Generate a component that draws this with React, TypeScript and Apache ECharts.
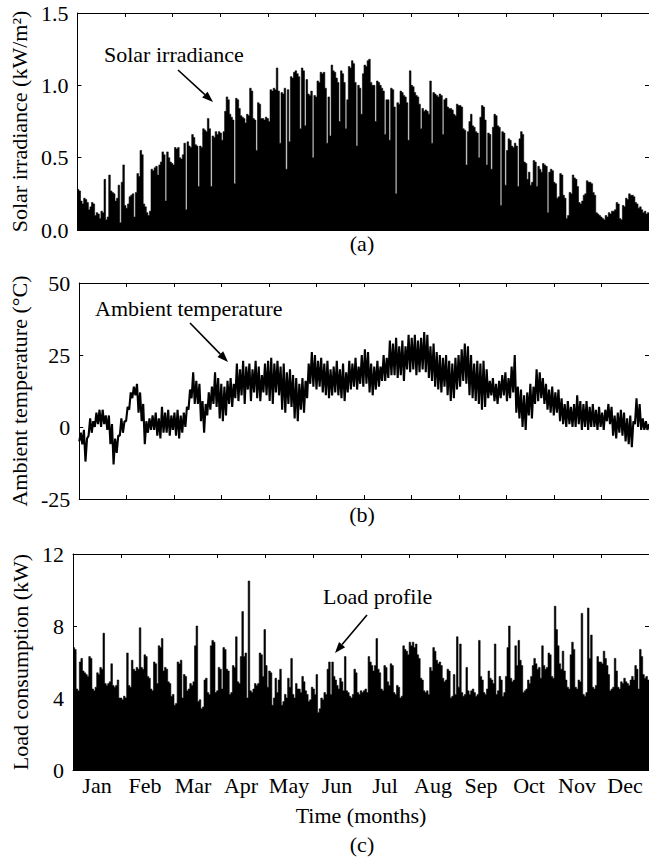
import { useEffect, useRef } from "react";
import * as echarts from "echarts";

const months = ["Jan", "Feb", "Mar", "Apr", "May", "Jun", "Jul", "Aug", "Sep", "Oct", "Nov", "Dec"];

// Daily peak solar irradiance (kW/m²), day 0..364
const solarPeak = [
  0.28, 0.27, 0.2, 0.18, 0.22, 0.21, 0.19, 0.14, 0.16, 0.19,
  0.18, 0.1, 0.12, 0.11, 0.08, 0.13, 0.12, 0.35, 0.07, 0.09,
  0.38, 0.27, 0.26, 0.25, 0.2, 0.22, 0.31, 0.05, 0.33, 0.45,
  0.17, 0.15, 0.18, 0.23, 0.24, 0.25, 0.09, 0.26, 0.39, 0.37,
  0.55, 0.52, 0.18, 0.16, 0.12, 0.1, 0.13, 0.42, 0.41, 0.43,
  0.44, 0.38, 0.45, 0.47, 0.54, 0.52, 0.2, 0.54, 0.5, 0.47,
  0.46, 0.45, 0.57, 0.56, 0.57, 0.5, 0.49, 0.52, 0.6, 0.14,
  0.61, 0.58, 0.57, 0.66, 0.64, 0.59, 0.58, 0.3, 0.58, 0.57,
  0.7, 0.69, 0.68, 0.77, 0.7, 0.3, 0.65, 0.64, 0.68, 0.66,
  0.68, 0.67, 0.62, 0.68, 0.82, 0.92, 0.9, 0.8, 0.78, 0.76,
  0.32, 0.91, 0.9, 0.84, 0.79, 0.78, 0.77, 0.74, 0.8, 0.79,
  0.98, 0.96, 0.77, 0.76, 0.55, 0.88, 0.87, 0.77, 0.77, 0.76,
  0.78, 0.77, 0.75, 0.97, 0.96, 0.98, 0.97, 1.12, 0.96, 0.6,
  0.95, 0.94, 0.98, 0.42, 0.97, 0.61, 1.06, 1.05, 1.09, 1.1,
  1.08, 1.06, 0.7, 1.12, 1.1, 0.72, 1.04, 0.94, 0.93, 0.96,
  0.5, 0.93, 0.92, 1.03, 1.02, 1.09, 1.08, 1.09, 0.98, 0.6,
  0.92, 0.65, 1.14, 1.1, 1.09, 1.05, 1.02, 0.75, 1.1, 1.08,
  1.02, 0.7, 0.9, 1.13, 1.12, 1.17, 1.15, 1.02, 0.58, 1.0,
  0.98, 0.8, 1.08, 1.14, 1.13, 1.17, 1.18, 1.02, 1.0, 1.0,
  0.75, 1.03, 1.02, 1.0, 0.98, 0.96, 0.66, 0.9, 0.9, 0.62,
  0.98, 0.97, 0.85, 0.25, 0.88, 0.87, 0.96, 0.95, 0.93, 0.92,
  0.88, 0.62, 1.1, 1.0, 0.99, 0.95, 0.93, 0.92, 0.87, 0.7,
  0.84, 0.82, 0.83, 0.82, 0.8, 1.03, 0.6, 0.95, 0.94, 0.93,
  0.92, 0.94, 0.93, 0.66, 0.9, 0.91, 0.85, 0.84, 0.84, 0.83,
  0.8, 0.79, 0.87, 0.86, 0.86, 0.85, 0.7, 0.69, 0.45, 0.68,
  0.75, 0.8, 0.72, 0.71, 0.68, 0.67, 0.5, 0.78, 0.86, 0.85,
  0.76, 0.45, 0.67, 0.66, 0.42, 0.71, 0.8, 0.79, 0.72, 0.71,
  0.17, 0.68, 0.67, 0.31, 0.55, 0.63, 0.62, 0.58, 0.57, 0.6,
  0.58, 0.3, 0.63, 0.68, 0.66, 0.47, 0.46, 0.35, 0.4, 0.31,
  0.33, 0.48, 0.47, 0.3, 0.44, 0.42, 0.4, 0.46, 0.45, 0.44,
  0.12, 0.4, 0.42, 0.41, 0.33, 0.32, 0.22, 0.23, 0.39, 0.38,
  0.24, 0.22, 0.08, 0.1, 0.26, 0.25, 0.38, 0.36, 0.35, 0.3,
  0.19, 0.18, 0.2, 0.24, 0.25, 0.34, 0.33, 0.33, 0.32, 0.26,
  0.24, 0.12, 0.11, 0.1, 0.09, 0.08, 0.07, 0.1, 0.09, 0.12,
  0.11, 0.13, 0.13, 0.14, 0.19, 0.18, 0.08, 0.07, 0.17, 0.16,
  0.22, 0.21, 0.25, 0.24, 0.24, 0.23, 0.19, 0.18, 0.15, 0.16,
  0.14, 0.12, 0.13, 0.11, 0.12,
];

// Ambient temperature (°C): maximum / minimum over each 2-day step, day 0,2,...,364
const tempMax = [
  -2, -1, -4, 3, 2, 5, 6, 6, 4, 4,
  1, -4, -3, 3, 2, 7, 12, 14, 15, 12,
  8, 2, 3, 4, 5, 3, 7, 5, 6, 4,
  5, 6, 4, 5, 7, 13, 19, 16, 15, 9,
  8, 12, 14, 19, 17, 15, 14, 16, 17, 15,
  22, 20, 23, 21, 22, 20, 23, 21, 18, 22,
  23, 24, 22, 23, 21, 22, 19, 20, 18, 17,
  15, 17, 16, 22, 26, 25, 23, 24, 22, 23,
  20, 21, 23, 20, 22, 19, 23, 22, 24, 21,
  25, 27, 26, 22, 21, 23, 21, 25, 24, 30,
  29, 31, 28, 30, 28, 32, 31, 32, 30, 31,
  33, 32, 28, 29, 26, 25, 24, 25, 23, 22,
  24, 25, 27, 29, 28, 25, 22, 23, 22, 23,
  20, 16, 17, 15, 16, 18, 19, 17, 21, 25,
  14, 13, 11, 12, 15, 14, 20, 19, 17, 15,
  13, 14, 12, 13, 10, 8, 9, 7, 8, 11,
  9, 8, 9, 7, 8, 6, 7, 5, 6, 8,
  7, 4, 5, 6, 5, 3, 4, 2, 10, 8,
  3, 2, 1,
];
const tempMin = [
  -5, -6, -12, -3, -2, 0, 1, 0, 1, -1,
  -6, -13, -9, -3, -2, 2, 6, 10, 11, 5,
  2, -6, -2, -1, -1, -3, -4, -2, -2, -3,
  -1, -3, -4, -2, 0, 6, 10, 8, 8, 2,
  -2, 4, 6, 8, 7, 3, 2, 4, 8, 7,
  10, 9, 11, 8, 13, 9, 12, 10, 9, 12,
  11, 9, 8, 12, 11, 6, 5, 8, 7, 3,
  2, 6, 5, 10, 15, 14, 13, 14, 12, 11,
  10, 11, 12, 11, 10, 9, 12, 13, 14, 13,
  15, 14, 15, 12, 11, 13, 14, 16, 16, 17,
  18, 18, 17, 18, 16, 20, 19, 20, 18, 19,
  20, 19, 17, 16, 14, 13, 12, 14, 11, 9,
  10, 13, 14, 16, 15, 11, 10, 9, 8, 6,
  7, 10, 11, 9, 8, 10, 11, 9, 10, 12,
  5, 3, 0, -1, 4, 3, 8, 9, 10, 8,
  6, 5, 4, 5, 2, 1, 0, 1, 0, 0,
  1, -1, 0, -1, 0, 0, -1, 0, -1, 2,
  1, -3, -4, -2, -3, -5, -6, -7, 1, 0,
  -1, -1, -1,
];

// Daily peak load consumption (kW), day 0..364
const loadPeak = [
  6.8, 6.7, 4.5, 4.4, 6.0, 6.2, 5.5, 5.4, 5.3, 5.2,
  6.3, 6.2, 4.5, 4.4, 4.6, 5.4, 5.3, 5.7, 5.6, 7.6,
  4.8, 4.7, 4.8, 4.9, 5.9, 4.7, 4.6, 4.7, 5.0, 4.0,
  4.0, 3.9, 4.1, 4.0, 6.5, 4.7, 4.6, 6.1, 5.6, 5.5,
  5.7, 5.6, 7.9, 5.7, 5.6, 6.4, 6.3, 5.2, 5.1, 4.5,
  4.4, 6.0, 5.9, 4.8, 6.9, 6.8, 7.3, 5.5, 5.7, 5.6,
  4.9, 4.8, 4.1, 4.2, 3.6, 3.7, 6.0, 5.9, 6.1, 4.0,
  5.3, 5.2, 4.4, 4.5, 4.8, 4.7, 4.9, 6.9, 8.0, 3.8,
  3.9, 3.4, 3.5, 5.0, 5.1, 4.3, 4.2, 6.9, 7.2, 7.1,
  4.3, 4.4, 5.7, 5.6, 4.5, 6.8, 6.7, 5.6, 5.5, 4.2,
  4.3, 5.8, 5.7, 7.4, 4.9, 4.8, 6.3, 8.8, 6.3, 6.5,
  4.0, 10.5, 4.4, 4.3, 4.5, 4.8, 4.7, 4.8, 6.5, 6.4,
  5.2, 7.8, 5.8, 4.6, 5.5, 5.4, 3.6, 4.0, 5.1, 4.3,
  5.0, 5.6, 3.6, 3.8, 4.2, 4.0, 5.1, 4.6, 6.2, 4.2,
  4.0, 4.8, 4.5, 4.5, 4.3, 5.2, 4.9, 4.4, 4.2, 3.8,
  3.9, 4.6, 4.5, 4.2, 5.3, 3.2, 3.4, 4.0, 3.9, 4.3,
  4.2, 5.6, 6.0, 4.2, 6.0, 5.2, 5.0, 4.7, 4.5, 5.1,
  4.9, 4.4, 6.3, 4.4, 4.3, 4.1, 4.0, 4.2, 5.6, 5.4,
  4.3, 4.2, 4.4, 4.3, 4.4, 4.5, 4.3, 6.3, 6.0, 5.8,
  5.5, 5.8, 7.3, 5.6, 5.4, 4.5, 4.4, 5.8, 5.7, 4.9,
  4.7, 5.9, 5.8, 4.3, 4.2, 4.7, 4.6, 4.0, 4.1, 6.9,
  6.7, 6.6, 6.4, 7.1, 6.9, 7.1, 6.8, 7.0, 6.4, 6.2,
  5.1, 5.0, 4.4, 4.3, 4.4, 4.2, 5.7, 5.5, 6.8, 6.6,
  6.1, 5.9, 6.0, 5.8, 5.1, 4.9, 5.0, 5.6, 5.5, 4.0,
  4.1, 5.3, 4.2, 7.4, 4.6, 7.0, 4.3, 4.1, 4.2, 5.7,
  4.4, 4.2, 4.4, 4.5, 4.3, 4.1, 4.2, 7.2, 5.2, 5.0,
  4.3, 4.2, 4.5, 5.5, 5.1, 5.0, 4.8, 7.0, 4.2, 4.4,
  5.2, 5.0, 4.1, 4.3, 5.2, 6.8, 8.0, 5.1, 4.9, 5.0,
  6.9, 5.8, 7.2, 6.1, 5.8, 4.3, 4.4, 4.5, 5.0, 4.8,
  5.2, 5.8, 6.2, 5.9, 5.6, 5.7, 5.1, 6.9, 5.8, 5.6,
  5.7, 6.5, 6.4, 5.2, 5.1, 9.1, 7.8, 6.9, 5.9, 5.6,
  6.6, 5.5, 5.0, 4.6, 4.5, 6.4, 7.1, 6.7, 4.6, 4.5,
  5.0, 4.9, 8.7, 4.2, 4.1, 4.3, 9.0, 6.2, 7.5, 4.6,
  4.5, 4.7, 6.3, 6.0, 6.0, 5.9, 6.6, 6.2, 5.8, 5.3,
  4.4, 4.5, 4.6, 6.2, 5.5, 4.6, 4.5, 4.9, 4.8, 5.1,
  4.9, 4.8, 4.7, 5.0, 5.2, 5.0, 5.8, 5.6, 4.5, 6.7,
  6.3, 5.3, 5.1, 5.2, 5.0,
];

const FONT = "'Liberation Serif', 'Times New Roman', Times, serif";
const FS = 22;

function stepData(vals: number[]): [number, number][] {
  const out: [number, number][] = [[0, vals[0]]];
  vals.forEach((v, d) => out.push([d + 0.5, v]));
  out.push([vals.length, vals[vals.length - 1]]);
  return out;
}

function bandData(mins: number[], maxs: number[]): [number, number][] {
  const out: [number, number][] = [];
  mins.forEach((m, i) => {
    out.push([2 * i, m]);
    out.push([2 * i + 1, maxs[i]]);
  });
  return out;
}

function arrow(x1: number, y1: number, x2: number, y2: number): any[] {
  const dx = x2 - x1;
  const dy = y2 - y1;
  const len = Math.sqrt(dx * dx + dy * dy);
  const ux = dx / len;
  const uy = dy / len;
  const hl = 11;
  const hw = 4;
  const bx = x2 - ux * hl;
  const by = y2 - uy * hl;
  return [
    {
      type: "line",
      shape: { x1, y1, x2: bx, y2: by },
      style: { stroke: "#000", lineWidth: 1.6 },
      silent: true,
    },
    {
      type: "polygon",
      shape: {
        points: [
          [x2, y2],
          [bx - uy * hw, by + ux * hw],
          [bx + uy * hw, by - ux * hw],
        ],
      },
      style: { fill: "#000" },
      silent: true,
    },
  ];
}

function label(text: string, x: number, y: number, align: string = "center"): any {
  return {
    type: "text",
    x,
    y,
    style: {
      text,
      fill: "#000",
      font: `${FS}px ${FONT}`,
      textAlign: align,
      textVerticalAlign: "middle",
    },
    silent: true,
  };
}

export default function App() {
  const ref = useRef<HTMLDivElement>(null);

  useEffect(() => {
    if (!ref.current) return;
    const chart = echarts.init(ref.current, undefined, { renderer: "svg" });

    const grids = [
      { left: 73, right: -2, top: 13, height: 217 },
      { left: 73, right: -2, top: 283, height: 216 },
      { left: 73, right: -2, top: 554, height: 216 },
    ];
    const yDefs = [
      { min: 0, max: 1.5, interval: 0.5, name: "Solar irradiance (kW/m²)", fmt: (v: number) => v.toFixed(1) },
      { min: -25, max: 50, interval: 25, name: "Ambient temperature (°C)", fmt: (v: number) => String(v) },
      { min: 0, max: 12, interval: 4, name: "Load consumption (kW)", fmt: (v: number) => String(v) },
    ];

    const axisLine = { show: true, onZero: false, lineStyle: { color: "#000", width: 1 } };
    const tick = { show: true, inside: true, length: 4, lineStyle: { color: "#000", width: 1 } };
    const textStyle = { color: "#000", fontFamily: FONT, fontSize: FS };

    const xAxis: any[] = [];
    const yAxis: any[] = [];
    grids.forEach((_, g) => {
      xAxis.push({
        type: "value",
        gridIndex: g,
        min: 0,
        max: 365,
        show: false,
        position: "bottom",
        axisLine: { show: false, onZero: false },
      });
      xAxis.push({
        type: "category",
        gridIndex: g,
        data: months,
        position: "bottom",
        boundaryGap: true,
        axisLine,
        axisTick: { ...tick, interval: 0 },
        axisLabel: { show: g === 2, interval: 0, margin: 4, ...textStyle },
        splitLine: { show: false },
        name: g === 2 ? "Time (months)" : "",
        nameLocation: "middle",
        nameGap: 34,
        nameTextStyle: textStyle,
      });
      xAxis.push({
        type: "category",
        gridIndex: g,
        data: months,
        position: "top",
        boundaryGap: true,
        axisLine,
        axisTick: { ...tick, interval: 0 },
        axisLabel: { show: false },
        splitLine: { show: false },
      });
      const yd = yDefs[g];
      yAxis.push({
        type: "value",
        gridIndex: g,
        position: "left",
        min: yd.min,
        max: yd.max,
        interval: yd.interval,
        axisLine,
        axisTick: tick,
        axisLabel: { margin: 9, formatter: yd.fmt, ...textStyle },
        splitLine: { show: false },
        name: yd.name,
        nameLocation: "middle",
        nameRotate: 90,
        nameGap: 41,
        nameTextStyle: textStyle,
      });
      yAxis.push({
        type: "value",
        gridIndex: g,
        position: "right",
        min: yd.min,
        max: yd.max,
        interval: yd.interval,
        axisLine,
        axisTick: tick,
        axisLabel: { show: false },
        splitLine: { show: false },
      });
    });

    const option: any = {
      animation: false,
      backgroundColor: "#fff",
      textStyle: { fontFamily: FONT },
      grid: grids,
      xAxis,
      yAxis,
      series: [
        {
          name: "Solar irradiance",
          type: "line",
          xAxisIndex: 0,
          yAxisIndex: 0,
          data: stepData(solarPeak),
          step: "middle",
          symbol: "none",
          lineStyle: { color: "#000", width: 0.6 },
          areaStyle: { color: "#000", opacity: 1 },
        },
        {
          name: "Ambient temperature",
          type: "line",
          xAxisIndex: 3,
          yAxisIndex: 2,
          data: bandData(tempMin, tempMax),
          symbol: "none",
          lineStyle: { color: "#000", width: 2.1 },
        },
        {
          name: "Load profile",
          type: "line",
          xAxisIndex: 6,
          yAxisIndex: 4,
          data: stepData(loadPeak),
          step: "middle",
          symbol: "none",
          lineStyle: { color: "#000", width: 0.6 },
          areaStyle: { color: "#000", opacity: 1 },
        },
      ],
      graphic: [
        label("Solar irradiance", 104, 54, "left"),
        ...arrow(178, 70, 213, 102),
        label("Ambient temperature", 95, 308, "left"),
        ...arrow(190, 323, 228, 362),
        label("Load profile", 323, 596, "left"),
        ...arrow(367, 615, 335, 653),
        label("(a)", 362, 243),
        label("(b)", 362, 514),
        label("(c)", 362, 844),
      ],
    };

    chart.setOption(option);
    return () => chart.dispose();
  }, []);

  return (
    <div
      ref={ref}
      style={{ position: "fixed", left: 0, top: 0, width: 649, height: 859, background: "#fff" }}
    />
  );
}
